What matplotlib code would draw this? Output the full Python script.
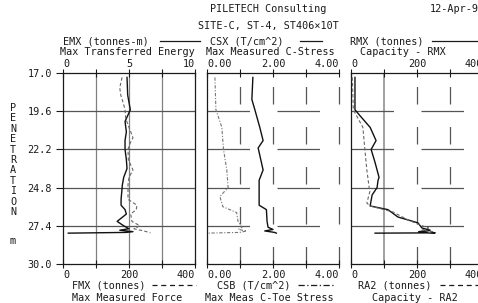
import matplotlib
matplotlib.use("Agg")
import matplotlib.pyplot as plt
from matplotlib.lines import Line2D

# depth scale
depth_ticks = [17.0, 19.6, 22.2, 24.8, 27.4, 30.0]
depth_labels = ["17.0", "19.6", "22.2", "24.8", "27.4", "30.0"]

# panel 1 : EMX (tonnes-m, top) and FMX (tonnes, bottom)
emx_depth = [17.3, 18.5, 19.5, 20.3, 21.0, 21.6, 22.2, 22.9, 23.5, 24.1, 24.6,
             25.6, 26.0, 26.3, 26.6, 27.1, 27.4, 27.6, 27.7, 27.8, 27.85, 27.9]
emx = [4.85, 4.9, 5.1, 4.7, 4.8, 4.7, 4.7, 4.8, 4.85, 4.6, 4.5,
       4.4, 4.4, 4.7, 4.8, 4.1, 4.6, 5.0, 4.3, 5.3, 4.8, 0.4]
fmx_depth = [17.3, 18.0, 18.5, 19.0, 19.5, 20.1, 20.7, 21.4, 21.8, 22.2, 22.9,
             23.3, 23.6, 24.1, 24.6, 25.0, 25.6, 26.0, 26.3, 26.6, 27.1, 27.4,
             27.6, 27.75, 27.88]
fmx = [179, 172, 175, 182, 188, 190, 200, 212, 203, 197, 198,
       206, 212, 200, 197, 197, 197, 224, 222, 205, 209, 233,
       215, 245, 265]

# panel 2 : CSX (T/cm^2, top) and CSB (T/cm^2, bottom)
csx_depth = [17.3, 18.8, 19.5, 20.7, 21.6, 22.1, 22.9, 23.6, 24.3, 25.0, 26.0,
             26.3, 27.1, 27.5, 27.65, 27.75, 27.85, 27.9]
csx = [1.39, 1.36, 1.45, 1.6, 1.7, 1.55, 1.63, 1.7, 1.58, 1.58, 1.58,
       1.8, 1.82, 1.85, 2.0, 1.75, 2.05, 2.1]
csb_depth = [17.3, 19.5, 20.7, 22.2, 23.6, 24.8, 25.4, 26.1, 26.5, 27.1, 27.5,
             27.65, 27.75, 27.85, 27.9]
csb = [0.24, 0.27, 0.45, 0.5, 0.6, 0.64, 0.39, 0.48, 0.9, 0.94, 1.06,
       0.95, 1.2, 1.0, 0.0]

# panel 3 : RMX (tonnes, top) and RA2 (tonnes, bottom)
rmx_depth = [17.3, 19.5, 19.9, 20.7, 21.6, 22.2, 23.1, 24.1, 24.3, 24.8, 25.3,
             26.05, 26.3, 26.8, 27.2, 27.55, 27.7, 27.8, 27.88, 27.9]
rmx = [12, 12, 27, 58, 76, 61, 73, 85, 82, 79, 64,
       58, 112, 142, 203, 215, 240, 205, 255, 73]
ra2_depth = [17.3, 19.5, 20.7, 22.2, 23.6, 24.8, 25.0, 25.85, 26.05, 26.46,
             27.0, 27.34, 27.55, 27.7, 27.8, 27.88]
ra2 = [4, 7, 36, 42, 48, 55, 58, 48, 58, 127,
       173, 209, 235, 215, 250, 230]

W, H = 478, 303
FS = 7.3
INK = "#1a1a1a"
plt.rcParams["font.family"] = ["DejaVu Sans Mono"]
plt.rcParams["font.size"] = FS

fig = plt.figure(figsize=(W / 100, H / 100), dpi=100)


def rect(x0, x1):
    return [x0 / W, 1 - 264 / H, (x1 - x0) / W, (264 - 73) / H]


def ftext(x, y, s, **kw):
    fig.text(x / W, 1 - y / H, s, color=INK, va="center", **kw)


def fline(x0, x1, y, **kw):
    fig.add_artist(Line2D([x0 / W, x1 / W], [1 - y / H, 1 - y / H],
                          transform=fig.transFigure, color=INK, lw=0.9, **kw))


def align_ends(axis):
    labs = [t for t in axis.get_ticklabels() if t.get_text()]
    labs[0].set_ha("left")
    labs[-1].set_ha("right")


def setup(ax, top_lim, top_ticks, top_labels, bot_lim, bot_ticks, bot_labels):
    tw = ax.twiny()
    ax.set_ylim(30, 17)
    ax.set_yticks(depth_ticks)
    # main axis: scale on top
    ax.set_xlim(*top_lim)
    ax.set_xticks(top_ticks)
    ax.set_xticklabels(top_labels)
    ax.xaxis.tick_top()
    ax.tick_params(axis="x", direction="inout", length=6, width=0.8,
                   colors=INK, pad=0)
    for s in ax.spines.values():
        s.set_linewidth(0.9)
        s.set_color(INK)
    # twin axis: scale at the bottom
    tw.set_xlim(*bot_lim)
    tw.set_xticks(bot_ticks)
    tw.set_xticklabels(bot_labels)
    tw.xaxis.tick_bottom()
    tw.tick_params(axis="x", direction="inout", length=6, width=0.8,
                   colors=INK, pad=1)
    for s in tw.spines.values():
        s.set_visible(False)
    align_ends(ax.xaxis)
    align_ends(tw.xaxis)
    return tw


# ---- panel 1
ax1 = fig.add_axes(rect(63, 195))
b1 = setup(ax1, (0, 10), [0, 2.5, 5, 7.5, 10], ["0", "", "5", "", "10"],
           (0, 400), [0, 100, 200, 300, 400], ["0", "", "200", "", "400"])
ax1.set_yticklabels(depth_labels)
ax1.tick_params(axis="y", direction="out", length=5, width=0.8, colors=INK, pad=3)
for v in [2.5, 5, 7.5]:
    ax1.axvline(v, color="#808080", lw=0.9, zorder=1)
for d in depth_ticks[1:-1]:
    ax1.axhline(d, color="#555555", lw=0.9, zorder=1)
ax1.plot(emx, emx_depth, color="#111111", lw=1.0, zorder=3)
b1.plot(fmx, fmx_depth, color="#666666", lw=0.8, dashes=(3, 2), zorder=3)

# ---- panel 2
ax2 = fig.add_axes(rect(207, 339))
b2 = setup(ax2, (0, 4), [0, 1, 2, 3, 4], ["0.00", "", "2.00", "", "4.00"],
           (0, 4), [0, 1, 2, 3, 4], ["0.00", "", "2.00", "", "4.00"])
ax2.tick_params(axis="y", left=False, labelleft=False)
ax2.spines["right"].set_visible(False)
for v in [1, 2, 3, 4]:
    ax2.axvline(v, color="#555555", lw=0.9, ls=(0, (14, 18)), zorder=1,
                clip_on=False)
for d in depth_ticks[1:-1]:
    ax2.axhline(d, color="#555555", lw=0.9, ls=(0, (34, 22)), zorder=1)
ax2.plot(csx, csx_depth, color="#111111", lw=1.0, zorder=3)
b2.plot(csb, csb_depth, color="#777777", lw=0.8, ls=(0, (3, 1.5, 1, 1.5)),
        zorder=3)

# ---- panel 3
ax3 = fig.add_axes(rect(351, 483))
b3 = setup(ax3, (0, 400), [0, 100, 200, 300, 400], ["0", "", "200", "", "400"],
           (0, 400), [0, 100, 200, 300, 400], ["0", "", "200", "", "400"])
ax3.tick_params(axis="y", left=False, labelleft=False)
ax3.axvline(100, color="#a0a0a0", lw=1.4, zorder=1)
for v in [200, 300]:
    ax3.axvline(v, color="#555555", lw=0.9, ls=(0, (14, 18)), zorder=1)
for d in depth_ticks[1:-1]:
    ax3.axhline(d, color="#555555", lw=0.9, ls=(0, (34, 22)), zorder=1)
ax3.plot(rmx, rmx_depth, color="#111111", lw=1.0, zorder=3)
b3.plot(ra2, ra2_depth, color="#666666", lw=0.8, dashes=(3, 2), zorder=3)

# ---- header
ftext(268, 9, "PILETECH Consulting", ha="center")
ftext(268, 26, "SITE-C, ST-4, ST406×10T", ha="center")
ftext(430, 9, "12-Apr-9", ha="left")

ftext(63, 41, "EMX (tonnes-m)", ha="left")
fline(160, 200, 41)
ftext(60, 52, "Max Transferred Energy", ha="left")

ftext(210, 41, "CSX (T/cm^2)", ha="left")
fline(300, 322, 41)
ftext(206, 52, "Max Measured C-Stress", ha="left")

ftext(350, 41, "RMX (tonnes)", ha="left")
fline(432, 478, 41)
ftext(360, 52, "Capacity - RMX", ha="left")

# ---- footer
ftext(72, 285, "FMX (tonnes)", ha="left")
fline(152, 196, 285, ls=(0, (4, 3)))
ftext(72, 298, "Max Measured Force", ha="left")

ftext(217, 285, "CSB (T/cm^2)", ha="left")
fline(298, 334, 285, ls=(0, (5, 2, 1, 2)))
ftext(205, 298, "Max Meas C-Toe Stress", ha="left")

ftext(358, 285, "RA2 (tonnes)", ha="left")
fline(440, 478, 285, ls=(0, (4, 3)))
ftext(372, 298, "Capacity - RA2", ha="left")

# vertical axis title, one letter per row
for i, ch in enumerate("PENETRATION"):
    ftext(13, 108 + i * 10.4, ch, ha="center")
ftext(13, 241, "m", ha="center")

fig.savefig("out.png", dpi=100, facecolor="white")
